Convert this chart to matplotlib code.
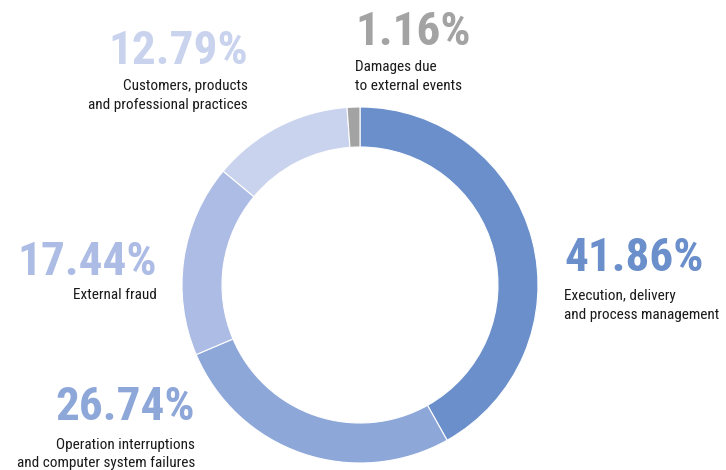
import matplotlib
matplotlib.use("Agg")
import matplotlib.pyplot as plt

categories = [
    "Execution, delivery\nand process management",
    "Operation interruptions\nand computer system failures",
    "External fraud",
    "Customers, products\nand professional practices",
    "Damages due\nto external events",
]
shares = [41.86, 26.74, 17.44, 12.79, 1.16]
colors = ["#6a8fcb", "#8ea7d9", "#adbce4", "#c9d3ee", "#a3a3a3"]

# label anchors in pixel space (x, baselines measured from the top edge)
anchor_x = [564, 195, 157, 248, 355]
align = ["left", "right", "right", "right", "left"]
value_base = [271, 420, 275, 64, 45]
name_base = [300, 449, 299, 90, 71]
line_step = 18.5

W, H = 726, 470
fig = plt.figure(figsize=(W / 100, H / 100), dpi=100)
ax = fig.add_axes([0, 0, 1, 1])

cx, cy, r = 360, H - 285, 178
ax.pie(shares, colors=colors, startangle=90, counterclock=False,
       center=(cx, cy), radius=r, frame=True,
       wedgeprops=dict(width=40, edgecolor="white", linewidth=0.8))
ax.set_xlim(0, W)
ax.set_ylim(0, H)
ax.set_aspect("equal")
ax.axis("off")

font = ["Roboto Condensed", "DejaVu Sans"]
for name, val, col, x, ha, vy, ny in zip(categories, shares, colors, anchor_x,
                                         align, value_base, name_base):
    ax.text(x, H - vy, f"{val:.2f}%", ha=ha, va="baseline", color=col,
            fontsize=34, fontweight="bold", family=font)
    for i, line in enumerate(name.split("\n")):
        ax.text(x, H - (ny + i * line_step), line, ha=ha, va="baseline",
                color="#1a1a1a", fontsize=11, family=font)

fig.savefig("out.png", dpi=100)
